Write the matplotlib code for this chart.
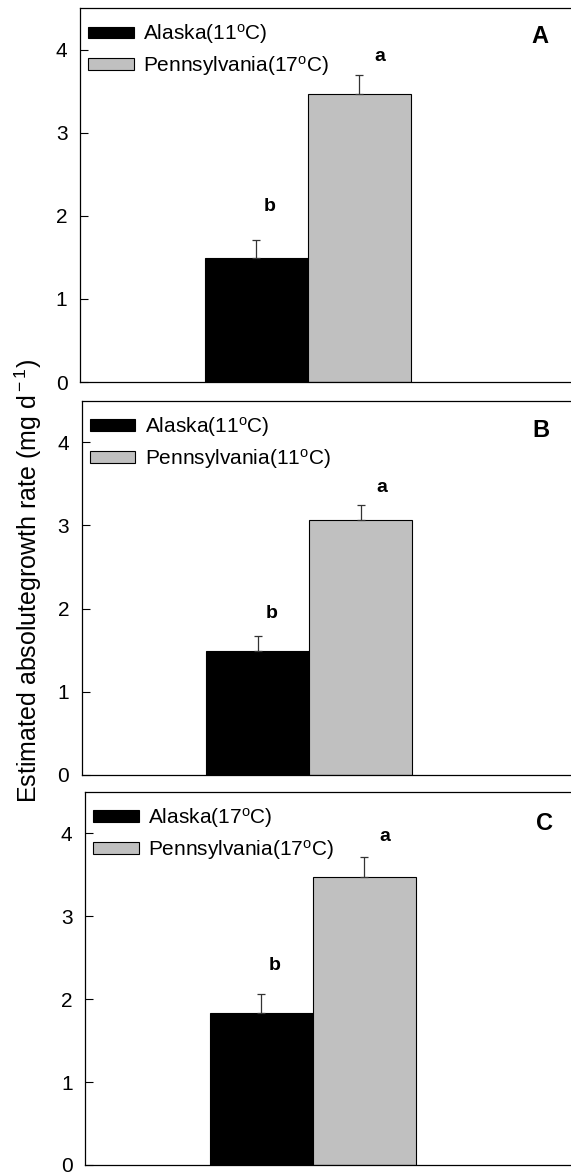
import matplotlib
matplotlib.use("Agg")
import matplotlib.pyplot as plt
import numpy as np

plt.rcParams['font.family'] = ['Liberation Sans', 'DejaVu Sans']
plt.rcParams['mathtext.fontset'] = 'custom'
plt.rcParams['mathtext.rm'] = 'Liberation Sans'
plt.rcParams['mathtext.it'] = 'Liberation Sans:italic'
plt.rcParams['mathtext.bf'] = 'Liberation Sans:bold'

# data
panels = ["A", "B", "C"]
alaska_temp = ["11", "11", "17"]
penn_temp = ["17", "11", "17"]
alaska_mean = [1.49, 1.49, 1.83]
alaska_se = [0.22, 0.18, 0.23]
penn_mean = [3.47, 3.06, 3.47]
penn_se = [0.22, 0.19, 0.24]
alaska_letter = ["b", "b", "b"]
penn_letter = ["a", "a", "a"]

# layout (figure fractions) and letter offsets above the error bars
ax_pos = [[0.140, 0.6746, 0.870, 0.3186],
          [0.143, 0.3399, 0.870, 0.3188],
          [0.149, 0.0077, 0.870, 0.3179]]
b_gap = [0.40, 0.27, 0.35]
a_gap = [0.23, 0.21, 0.25]
grey = '#c0c0c0'

fig = plt.figure(figsize=(5.71, 11.74), dpi=100)

for i in range(3):
    ax = fig.add_axes(ax_pos[i])
    ax.bar(0, alaska_mean[i], width=1, color='black', edgecolor='black', linewidth=0.8,
           label=r'Alaska(%s$^{\rm o}$C)' % alaska_temp[i])
    ax.bar(1, penn_mean[i], width=1, color=grey, edgecolor='black', linewidth=0.8,
           label=r'Pennsylvania(%s$^{\rm o}$C)' % penn_temp[i])
    ax.errorbar([0, 1], [alaska_mean[i], penn_mean[i]],
                yerr=[[0, 0], [alaska_se[i], penn_se[i]]],
                fmt='none', ecolor='#333333', elinewidth=0.9, capsize=3, capthick=0.9)
    ax.text(0.13, alaska_mean[i] + alaska_se[i] + b_gap[i], alaska_letter[i],
            ha='center', va='center', fontsize=14, fontweight='bold')
    ax.text(1.2, penn_mean[i] + penn_se[i] + a_gap[i], penn_letter[i],
            ha='center', va='center', fontsize=14, fontweight='bold')
    ax.text(0.925, 0.925 - 0.005 * i, panels[i], transform=ax.transAxes,
            ha='center', va='center', fontsize=17, fontweight='bold')

    ax.set_xlim(-1.71, 3.11)
    ax.set_ylim(0, 4.5)
    ax.set_yticks([0, 1, 2, 3, 4])
    ax.set_xticks([])
    ax.tick_params(axis='y', direction='in', length=6, width=0.8, labelsize=15, pad=9)
    ax.spines['right'].set_visible(False)
    for s in ['left', 'top', 'bottom']:
        ax.spines[s].set_linewidth(0.9)

    ax.legend(loc='upper left', bbox_to_anchor=(-0.005, 0.99), frameon=False, fontsize=15,
              handlelength=2.2, handleheight=0.5, handletextpad=0.45,
              labelspacing=0.38, borderaxespad=0.3, borderpad=0.2)

fig.text(0.05, 0.505, r'Estimated absolutegrowth rate (mg d$^{\rm -1}$)', rotation=90,
         ha='center', va='center', fontsize=18)

fig.savefig('out.png', dpi=100)
